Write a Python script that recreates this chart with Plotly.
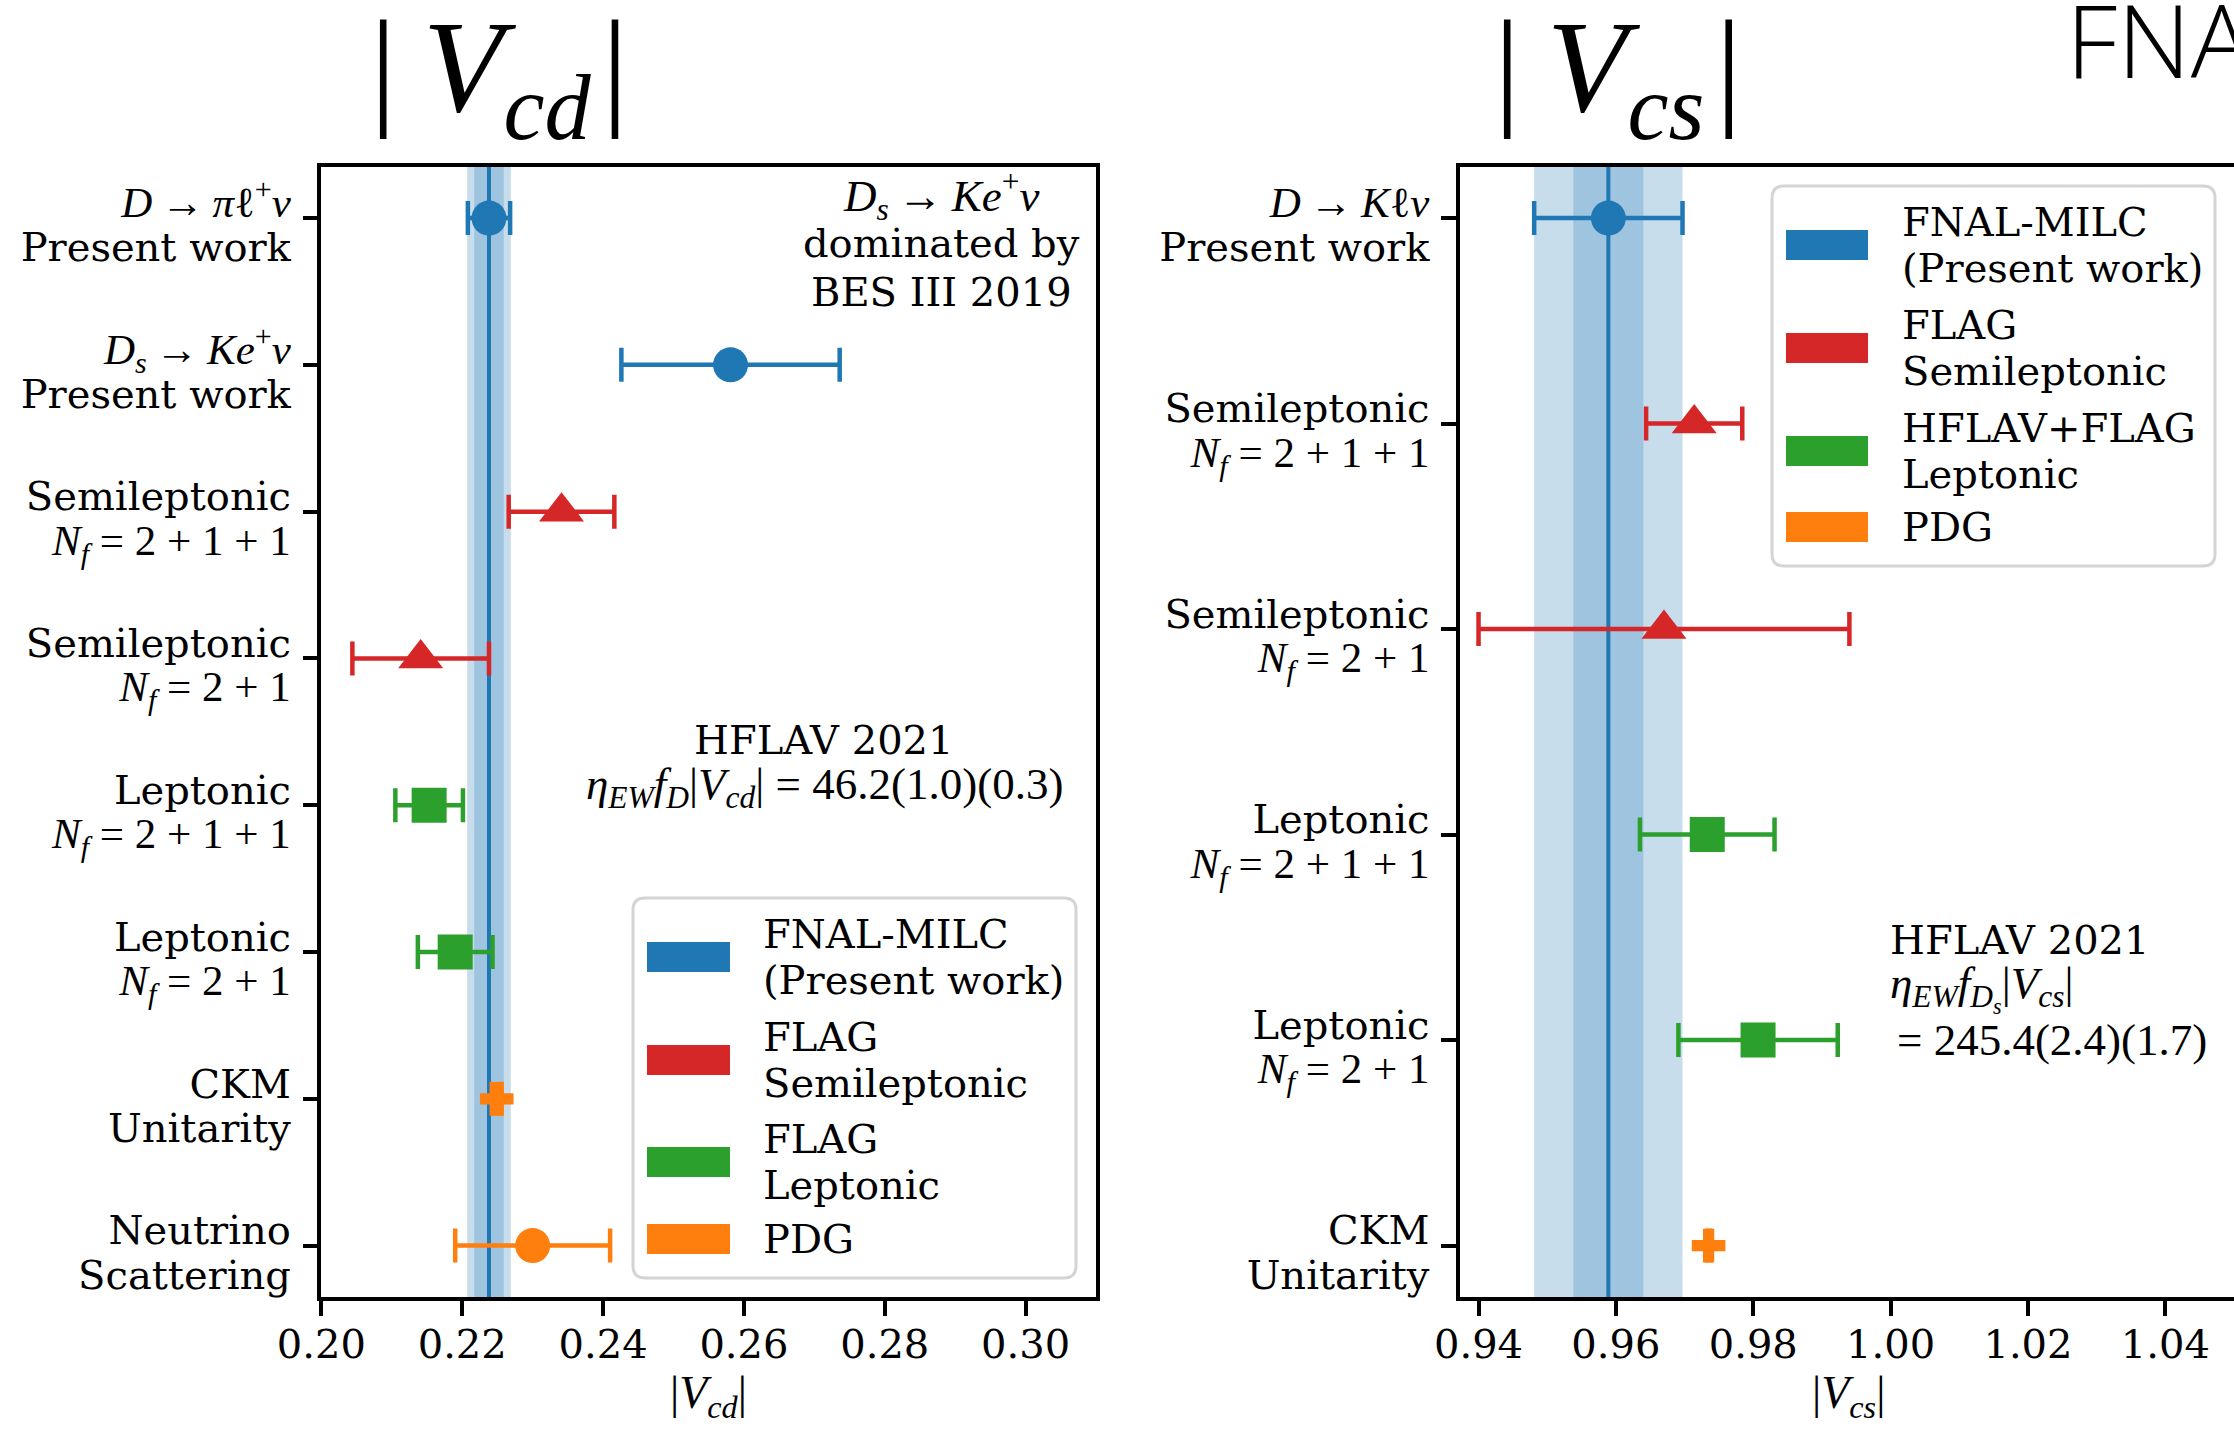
import plotly.graph_objects as go

W, H = 2234, 1429

# ---------------- data ----------------
MATH = "font-family:'Liberation Serif';font-size:43px"
TXT = "font-size:40px"
ARROW = "\u2009→\u2009"

vcd_labels = [
    f'<span style="{MATH}"><i>D</i>{ARROW}<i>π</i>ℓ<sup>+</sup><i>ν</i></span><br><span style="{TXT}">Present work</span>',
    f'<span style="{MATH}"><i>D</i><sub><i>s</i></sub>{ARROW}<i>Ke</i><sup>+</sup><i>ν</i></span><br><span style="{TXT}">Present work</span>',
    f'<span style="{TXT}">Semileptonic</span><br><span style="{MATH}"><i>N</i><sub><i>f</i></sub> = 2 + 1 + 1</span>',
    f'<span style="{TXT}">Semileptonic</span><br><span style="{MATH}"><i>N</i><sub><i>f</i></sub> = 2 + 1</span>',
    f'<span style="{TXT}">Leptonic</span><br><span style="{MATH}"><i>N</i><sub><i>f</i></sub> = 2 + 1 + 1</span>',
    f'<span style="{TXT}">Leptonic</span><br><span style="{MATH}"><i>N</i><sub><i>f</i></sub> = 2 + 1</span>',
    f'<span style="{TXT}">CKM</span><br><span style="{TXT}">Unitarity</span>',
    f'<span style="{TXT}">Neutrino</span><br><span style="{TXT}">Scattering</span>',
]
vcd_values = [0.2238, 0.2581, 0.2341, 0.2141, 0.2153, 0.2190, 0.2249, 0.2300]
vcd_errors = [0.0030, 0.0155, 0.0075, 0.0097, 0.0048, 0.0053, 0.0007, 0.0110]
vcd_source = ["fnal", "fnal", "semi", "semi", "lept", "lept", "pdg", "pdg"]
vcd_markers = ["circle", "circle", "triangle-up", "triangle-up", "square", "square", "cross", "circle"]
vcd_center = 0.2238
vcd_band_inner = 0.0021
vcd_band_outer = 0.0031
vcd_ticks = [0.20, 0.22, 0.24, 0.26, 0.28, 0.30]

vcs_labels = [
    f'<span style="{MATH}"><i>D</i>{ARROW}<i>K</i>ℓ<i>ν</i></span><br><span style="{TXT}">Present work</span>',
    f'<span style="{TXT}">Semileptonic</span><br><span style="{MATH}"><i>N</i><sub><i>f</i></sub> = 2 + 1 + 1</span>',
    f'<span style="{TXT}">Semileptonic</span><br><span style="{MATH}"><i>N</i><sub><i>f</i></sub> = 2 + 1</span>',
    f'<span style="{TXT}">Leptonic</span><br><span style="{MATH}"><i>N</i><sub><i>f</i></sub> = 2 + 1 + 1</span>',
    f'<span style="{TXT}">Leptonic</span><br><span style="{MATH}"><i>N</i><sub><i>f</i></sub> = 2 + 1</span>',
    f'<span style="{TXT}">CKM</span><br><span style="{TXT}">Unitarity</span>',
]
vcs_values = [0.9589, 0.9714, 0.9670, 0.9733, 0.9807, 0.9735]
vcs_errors = [0.0108, 0.0070, 0.0270, 0.0098, 0.0116, 0.0002]
vcs_source = ["fnal", "semi", "semi", "lept", "lept", "pdg"]
vcs_markers = ["circle", "triangle-up", "triangle-up", "square", "square", "cross"]
vcs_center = 0.9589
vcs_band_inner = 0.0051
vcs_band_outer = 0.0108
vcs_ticks = [0.94, 0.96, 0.98, 1.00, 1.02, 1.04]

vcd_legend = [("fnal", ["FNAL-MILC", "(Present work)"]),
              ("semi", ["FLAG", "Semileptonic"]),
              ("lept", ["FLAG", "Leptonic"]),
              ("pdg", ["PDG"])]
vcs_legend = [("fnal", ["FNAL-MILC", "(Present work)"]),
              ("semi", ["FLAG", "Semileptonic"]),
              ("lept", ["HFLAV+FLAG", "Leptonic"]),
              ("pdg", ["PDG"])]

COLORS = {"fnal": "#1f77b4", "semi": "#d62728", "lept": "#2ca02c", "pdg": "#ff7f0e"}
SIZES = {"circle": 35, "triangle-up": 39, "square": 35, "cross": 28}
BAND_OUTER = "#c7ddec"
BAND_INNER = "#9fc4df"

SERIF = "DejaVu Serif"
MATHFONT = "Liberation Serif"


def px(x):
    return x / W


def py(y):
    return 1 - y / H


fig = go.Figure()
shapes = []
annotations = []


def add_panel(values, errors, sources, markers, xa, ya, center, inner, outer):
    xref = "x" if xa == "x" else "x2"
    yd = ("y" if ya == "y" else "y2") + " domain"
    shapes.append(dict(type="rect", xref=xref, yref=yd, x0=center - outer, x1=center + outer,
                       y0=0, y1=1, fillcolor=BAND_OUTER, line=dict(width=0), layer="below"))
    shapes.append(dict(type="rect", xref=xref, yref=yd, x0=center - inner, x1=center + inner,
                       y0=0, y1=1, fillcolor=BAND_INNER, line=dict(width=0), layer="below"))
    shapes.append(dict(type="line", xref=xref, yref=yd, x0=center, x1=center, y0=0, y1=1,
                       line=dict(color=COLORS["fnal"], width=4), layer="below"))
    for i, (v, e, s, m) in enumerate(zip(values, errors, sources, markers)):
        c = COLORS[s]
        fig.add_trace(go.Scatter(
            x=[v], y=[i], xaxis=xa, yaxis=ya, mode="markers", showlegend=False,
            marker=dict(symbol=m, size=SIZES[m], color=c, line=dict(width=0)),
            error_x=dict(type="data", array=[e], color=c, thickness=4.5, width=17),
            hoverinfo="x+y"))


add_panel(vcd_values, vcd_errors, vcd_source, vcd_markers, "x", "y",
          vcd_center, vcd_band_inner, vcd_band_outer)
add_panel(vcs_values, vcs_errors, vcs_source, vcs_markers, "x2", "y2",
          vcs_center, vcs_band_inner, vcs_band_outer)


def add_legend(box, patch_x, text_x, centers, items):
    x0, x1, y0, y1 = box
    r = 12
    X0, X1, Y0, Y1 = px(x0), px(x1), py(y0), py(y1)
    rx, ry = r / W, r / H
    path = (f"M{X0+rx},{Y0} L{X1-rx},{Y0} Q{X1},{Y0} {X1},{Y0-ry} "
            f"L{X1},{Y1+ry} Q{X1},{Y1} {X1-rx},{Y1} L{X0+rx},{Y1} "
            f"Q{X0},{Y1} {X0},{Y1+ry} L{X0},{Y0-ry} Q{X0},{Y0} {X0+rx},{Y0} Z")
    shapes.append(dict(type="path", xref="paper", yref="paper", path=path,
                       fillcolor="white", line=dict(color="#d4d4d4", width=3), layer="above"))
    for (key, lines), cy in zip(items, centers):
        shapes.append(dict(type="rect", xref="paper", yref="paper",
                           x0=px(patch_x[0]), x1=px(patch_x[1]), y0=py(cy + 15), y1=py(cy - 15),
                           fillcolor=COLORS[key], line=dict(width=0), layer="above"))
        n = len(lines)
        for j, t in enumerate(lines):
            ly = cy + (j - (n - 1) / 2) * 46
            annotations.append(dict(x=px(text_x), y=py(ly), xref="paper", yref="paper",
                                    text=t, showarrow=False, xanchor="left", yanchor="middle",
                                    font=dict(family=SERIF, size=40, color="black")))


add_legend((633, 1076, 898, 1278), (647, 730), 761, [957, 1060, 1162, 1239], vcd_legend)
add_legend((1772, 2215, 186, 566), (1786, 1868), 1900, [245, 348, 451, 527], vcs_legend)


def text(x, y, t, size=40, family=SERIF, xanchor="center", **kw):
    annotations.append(dict(x=px(x), y=py(y), xref="paper", yref="paper", text=t,
                            showarrow=False, xanchor=xanchor, yanchor="middle",
                            font=dict(family=family, size=size, color="black", **kw)))


# panel titles
text(499, 76, "|\u2009<i>V</i><sub><i>cd</i></sub>\u200a|", size=132, family=MATHFONT)
text(1618, 76, "|\u2009<i>V</i><sub><i>cs</i></sub>\u200a|", size=132, family=MATHFONT)
text(2064, 38, "FNAL/MILC 2022", size=102, family="Open Sans", xanchor="left", weight=300)

# axis titles
text(708, 1396, "|<i>V</i><sub><i>cd</i></sub>|", size=46, family=MATHFONT)
text(1848, 1396, "|<i>V</i><sub><i>cs</i></sub>|", size=46, family=MATHFONT)

# left panel notes
text(941, 196, f"<i>D</i><sub><i>s</i></sub>{ARROW}<i>Ke</i><sup>+</sup><i>ν</i>", size=45, family=MATHFONT)
text(941, 243, "dominated by")
text(941, 292, "BES III 2019")
text(824, 740, "HFLAV 2021")
text(824, 787, "<i>η</i><sub><i>EW</i></sub><i>f</i><sub><i>D</i></sub>|<i>V</i><sub><i>cd</i></sub>| = 46.2(1.0)(0.3)",
     size=45, family=MATHFONT)

# right panel notes
text(1888, 940, "HFLAV 2021", xanchor="left")
text(1888, 988, "<i>η</i><sub><i>EW</i></sub><i>f</i><sub><i>D</i><sub><i>s</i></sub></sub>|<i>V</i><sub><i>cs</i></sub>|",
     size=45, family=MATHFONT, xanchor="left")
text(1895, 1040, "= 245.4(2.4)(1.7)", size=45, family=MATHFONT, xanchor="left")

ydom = [py(1297), py(166.7)]
axis_common = dict(showline=True, linewidth=3.5, linecolor="black", ticks="outside",
                   ticklen=15, tickwidth=3.5, tickcolor="black", showgrid=False, zeroline=False,
                   automargin=False)
xfont = dict(family=SERIF, size=40, color="black")
yfont = dict(family=SERIF, size=34, color="black")

fig.update_layout(
    width=W, height=H, margin=dict(l=0, r=0, t=0, b=0, autoexpand=False),
    paper_bgcolor="white", plot_bgcolor="white", showlegend=False,
    xaxis=dict(domain=[px(321.4), px(1096)], range=[0.20, 0.31], anchor="y", mirror=True,
               tickvals=vcd_ticks, ticktext=[f"{t:.2f}" for t in vcd_ticks],
               tickfont=xfont, ticklabelstandoff=-6, **axis_common),
    yaxis=dict(domain=ydom, range=[7.35, -0.35], anchor="x", mirror=True,
               tickvals=list(range(len(vcd_labels))), ticktext=vcd_labels,
               tickfont=yfont, ticklabelstandoff=5, ticklabelshift=-9, **axis_common),
    xaxis2=dict(domain=[px(1460), 1.0], range=[0.9373, 1.05], anchor="y2", mirror=True,
                tickvals=vcs_ticks, ticktext=[f"{t:.2f}" for t in vcs_ticks],
                tickfont=xfont, ticklabelstandoff=-6, **axis_common),
    yaxis2=dict(domain=ydom, range=[5.25, -0.25], anchor="x2", mirror=False,
                tickvals=list(range(len(vcs_labels))), ticktext=vcs_labels,
                tickfont=yfont, ticklabelstandoff=5, ticklabelshift=-9, **axis_common),
    shapes=shapes, annotations=annotations,
)

fig.write_html("out.html", config={"displayModeBar": False},
               post_script="document.body.style.margin='0px';")
